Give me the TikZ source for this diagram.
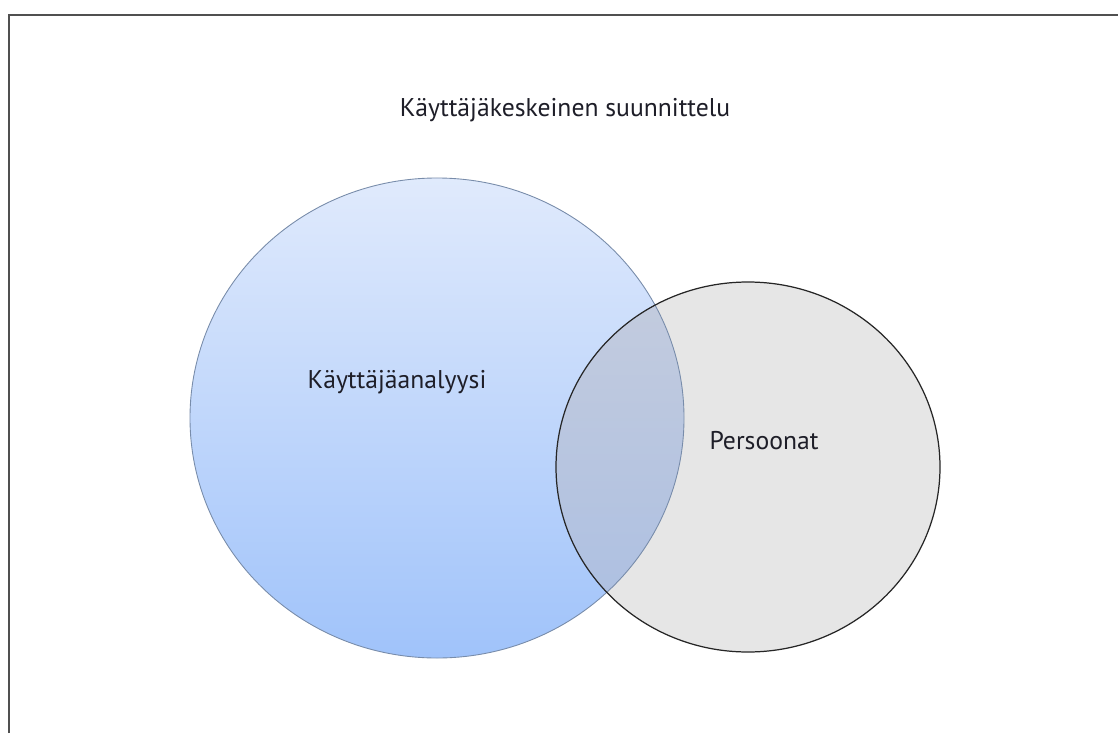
\documentclass[tikz,border=0pt]{standalone}
\usepackage{fontspec}
\setmainfont{PT Sans}
\usepackage{tikz}
\usetikzlibrary{shapes.geometric}

\definecolor{framegray}{RGB}{80,80,80}
\definecolor{bluetop}{RGB}{224,234,252}
\definecolor{bluebot}{RGB}{160,195,250}
\definecolor{blueline}{RGB}{120,140,170}
\definecolor{grayfill}{RGB}{230,230,230}
\definecolor{overtop}{RGB}{196,204,222}
\definecolor{overbot}{RGB}{170,190,226}
\definecolor{textcol}{RGB}{30,30,40}

\begin{document}
\begin{tikzpicture}[x=0.02cm, y=-0.02cm,
        label/.style={font=\fontsize{14.6}{17}\selectfont, text=textcol, inner sep=0pt}]
        \useasboundingbox (0, 0) rectangle (1118, 733);
        \fill[white] (0, 0) rectangle (1118, 733);
        
        % frame
        \draw[framegray, line width=1.4pt] (9, 733) -- (9, 15) -- (1118, 15);
        
        % circles
        \shade[top color=bluetop, bottom color=bluebot] (437, 418) ellipse [x radius=247, y radius=240];
        \fill[grayfill] (748, 467) ellipse [x radius=192, y radius=185];
        \begin{scope}
            \clip (437, 418) ellipse [x radius=247, y radius=240];
            \shade[top color=overtop, bottom color=overbot] (748, 467) ellipse [x radius=192, y radius=185];
        \end{scope}
        \draw[blueline, line width=0.5pt] (437, 418) ellipse [x radius=247, y radius=240];
        \draw[black!85, line width=0.7pt] (748, 467) ellipse [x radius=192, y radius=185];
        
        % texts
        \node[label] (title) at (565, 110) {Käyttäjäkeskeinen suunnittelu};
        \node[label] (ka) at (397, 382) {Käyttäjäanalyysi};
        \node[label] (pers) at (764, 441) {Persoonat};
    \end{tikzpicture}
\end{document}
